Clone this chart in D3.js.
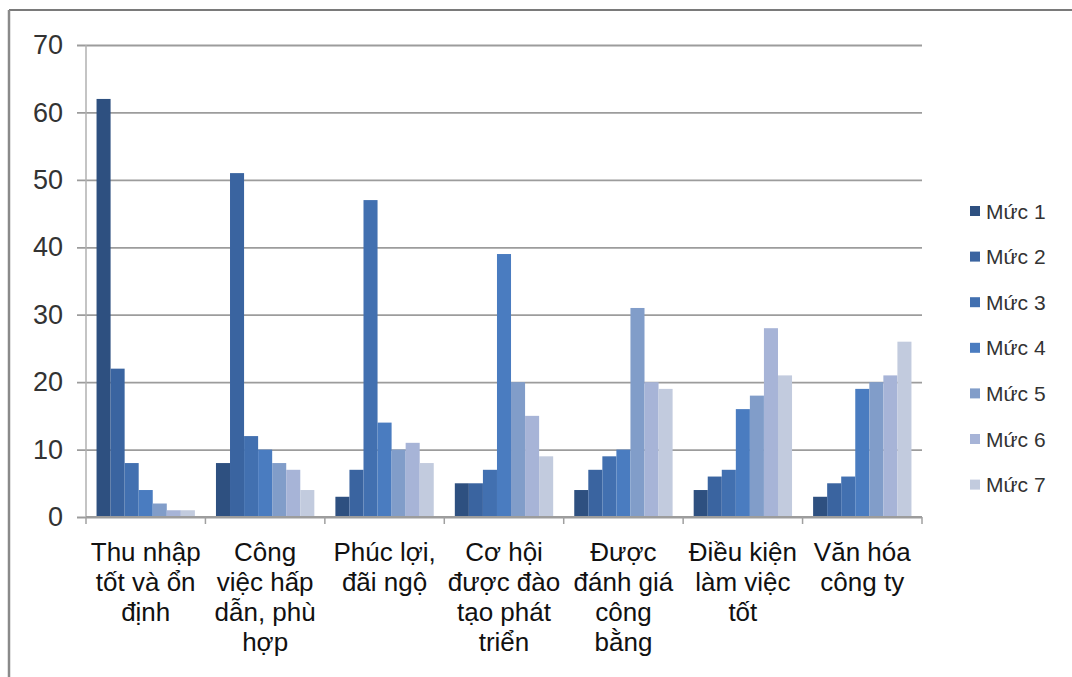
<!DOCTYPE html>
<html>
<head>
<meta charset="utf-8">
<script src="https://cdn.jsdelivr.net/npm/d3@7"></script>
<style>
  html, body { margin: 0; padding: 0; background: #fff; }
  svg { display: block; }
</style>
</head>
<body>
<svg id="chart" width="1072" height="677"></svg>
<script>
// Job-choice factors, rated on seven levels (Mức 1..7)
const categories = [
  ["Thu nhập", "tốt và ổn", "định"],
  ["Công", "việc hấp", "dẫn, phù", "hợp"],
  ["Phúc lợi,", "đãi ngộ"],
  ["Cơ hội", "được đào", "tạo phát", "triển"],
  ["Được", "đánh giá", "công", "bằng"],
  ["Điều kiện", "làm việc", "tốt"],
  ["Văn hóa", "công ty"]
];
const seriesNames = ["Mức 1", "Mức 2", "Mức 3", "Mức 4", "Mức 5", "Mức 6", "Mức 7"];
const muc1 = [62, 8, 3, 5, 4, 4, 3];
const muc2 = [22, 51, 7, 5, 7, 6, 5];
const muc3 = [8, 12, 47, 7, 9, 7, 6];
const muc4 = [4, 10, 14, 39, 10, 16, 19];
const muc5 = [2, 8, 10, 20, 31, 18, 20];
const muc6 = [1, 7, 11, 15, 20, 28, 21];
const muc7 = [1, 4, 8, 9, 19, 21, 26];
const yTicks = [0, 10, 20, 30, 40, 50, 60, 70];
const colors = ["#2e5080", "#3a64a0", "#4270b0", "#4a7cc0", "#819dc9", "#a7b4d7", "#c2cbde"];

const seriesValues = [muc1, muc2, muc3, muc4, muc5, muc6, muc7];
const catKeys = categories.map((c, i) => i);

const svg = d3.select("#chart");
const plot = { left: 86, right: 922, top: 45, bottom: 517 };

// Outer frame (top and left edges)
svg.append("line").attr("x1", 9).attr("x2", 1072).attr("y1", 10).attr("y2", 10)
  .attr("stroke", "#7a7a7a").attr("stroke-width", 2);
svg.append("line").attr("x1", 9).attr("x2", 9).attr("y1", 10).attr("y2", 677)
  .attr("stroke", "#8a8a8a").attr("stroke-width", 2.5);

const x0 = d3.scaleBand().domain(catKeys).range([plot.left, plot.right]).padding(0);
const gap = x0.bandwidth() * 1.5 / 8.5;
const x1 = d3.scaleBand().domain(d3.range(seriesNames.length))
  .range([gap / 2, x0.bandwidth() - gap / 2]).padding(0);
const y = d3.scaleLinear().domain([0, 70]).range([plot.bottom, plot.top]);

// Horizontal gridlines with tick stubs left of the axis
const yAxis = d3.axisLeft(y).tickValues(yTicks)
  .tickSize(-(plot.right - plot.left)).tickSizeOuter(0).tickPadding(0);
const gy = svg.append("g").attr("transform", `translate(${plot.left},0)`).call(yAxis);
gy.select(".domain").remove();
gy.selectAll(".tick line").attr("x1", -9).attr("stroke", "#9c9c9c").attr("stroke-width", 1.8);
gy.selectAll(".tick text")
  .attr("x", -23)
  .attr("font-family", "'Liberation Sans', Arial, sans-serif")
  .attr("font-size", 27).attr("fill", "#333");

// Bars
const groups = svg.append("g").selectAll("g")
  .data(catKeys).join("g")
  .attr("transform", i => `translate(${x0(i)},0)`);
groups.selectAll("rect")
  .data(i => seriesValues.map((vals, s) => ({ s, v: vals[i] })))
  .join("rect")
  .attr("x", d => x1(d.s))
  .attr("y", d => y(d.v))
  .attr("width", x1.bandwidth())
  .attr("height", d => y(0) - y(d.v))
  .attr("fill", d => colors[d.s]);

// Vertical axis line
svg.append("line").attr("x1", plot.left).attr("x2", plot.left)
  .attr("y1", plot.top).attr("y2", plot.bottom)
  .attr("stroke", "#b0b0b0").attr("stroke-width", 1.5);

// Category axis with tick marks at band boundaries
svg.append("line").attr("x1", plot.left).attr("x2", plot.right)
  .attr("y1", plot.bottom).attr("y2", plot.bottom)
  .attr("stroke", "#9c9c9c").attr("stroke-width", 1.8);
svg.append("g").selectAll("line")
  .data(d3.range(categories.length + 1)).join("line")
  .attr("x1", i => plot.left + i * x0.step())
  .attr("x2", i => plot.left + i * x0.step())
  .attr("y1", plot.bottom).attr("y2", plot.bottom + 7)
  .attr("stroke", "#a0a0a0").attr("stroke-width", 1.5);

// Multi-line category labels
const labels = svg.append("g").selectAll("text")
  .data(catKeys).join("text")
  .attr("x", i => x0(i) + x0.bandwidth() / 2)
  .attr("y", 561)
  .attr("text-anchor", "middle")
  .attr("font-family", "'Liberation Sans', Arial, sans-serif")
  .attr("font-size", 26).attr("fill", "#111");
labels.selectAll("tspan")
  .data(i => categories[i].map(t => ({ t, cx: x0(i) + x0.bandwidth() / 2 })))
  .join("tspan")
  .attr("x", d => d.cx)
  .attr("dy", (d, j) => j === 0 ? 0 : 30)
  .text(d => d.t);

// Legend
const legend = svg.append("g").selectAll("g")
  .data(seriesNames).join("g")
  .attr("transform", (d, i) => `translate(970,${211 + i * 45.6})`);
legend.append("rect").attr("x", 0).attr("y", -5).attr("width", 10).attr("height", 10)
  .attr("fill", (d, i) => colors[i]);
legend.append("text").attr("x", 16).attr("y", 7.5)
  .attr("font-family", "'Liberation Sans', Arial, sans-serif")
  .attr("font-size", 21).attr("fill", "#333")
  .text(d => d);
</script>
</body>
</html>
